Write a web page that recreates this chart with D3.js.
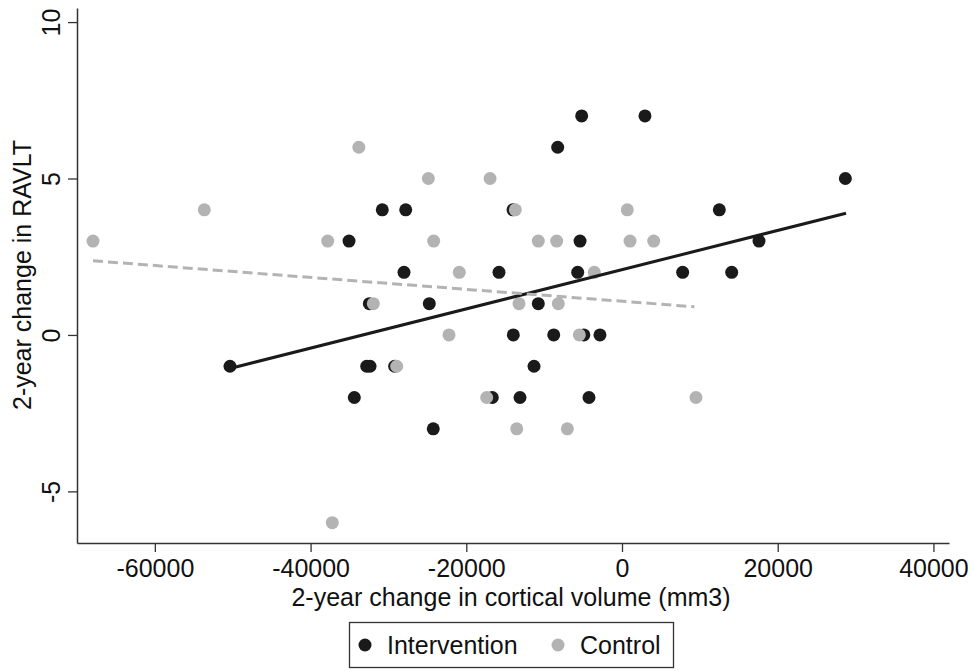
<!DOCTYPE html>
<html>
<head>
<meta charset="utf-8">
<script src="https://cdn.jsdelivr.net/npm/d3@7"></script>
<style>
  body { margin: 0; background: #fff; }
  text { font-family: "Liberation Sans", Arial, sans-serif; fill: #111; }
</style>
</head>
<body>
<svg width="974" height="671"></svg>
<script>
// values
const interventionX = [-5180, 2950, -8260, 28690, -30790, -27780, -14000, 12500,
  -35060, -5390, 17600, -28000, -15800, -5690, 7790, 14090,
  -32450, -24750, -10750, -13960, -8770, -4900, -2830,
  -50350, -32790, -32360, -29200, -11300, -34380, -16660, -13100, -4240, -24240];
const interventionY = [7, 7, 6, 5, 4, 4, 4, 4,
  3, 3, 3, 2, 2, 2, 2, 2,
  1, 1, 1, 0, 0, 0, 0,
  -1, -1, -1, -1, -1, -2, -2, -2, -2, -3];

const controlX = [-33800, -24870, -16950, -53650, -13700, 680,
  -67945, -37800, -24190, -10750, -8390, 1030, 4070,
  -20900, -3560, -31940, -13230, -8180, -22220, -5480,
  -28940, -17380, 9500, -13520, -7020, -37210];
const controlY = [6, 5, 5, 4, 4, 4,
  3, 3, 3, 3, 3, 3, 3,
  2, 2, 1, 1, 1, 0, 0,
  -1, -2, -2, -3, -3, -6];

// fitted lines (end points)
const interventionFitX = [-50350, 28770];
const interventionFitY = [-1.07, 3.89];
const controlFitX = [-67945, 9300];
const controlFitY = [2.37, 0.90];

const xTicks = [-60000, -40000, -20000, 0, 20000, 40000];
const yTicks = [-5, 0, 5, 10];
const legendLabels = ["Intervention", "Control"];

const BLACK = "#1a1a1a", GREY = "#b3b3b3";
const FS = 25;

const svg = d3.select("svg");
const x = d3.scaleLinear().domain([-70000, 42000]).range([77, 949]);
const y = d3.scaleLinear().domain([-6.65, 10.45]).range([543, 8]);

// axes
const xAxis = svg.append("g")
    .attr("transform", "translate(0,543)")
    .call(d3.axisBottom(x).tickValues(xTicks).tickSize(9).tickFormat(d => String(d)).tickSizeOuter(0));
xAxis.select(".domain").attr("stroke", "#333").attr("stroke-width", 1.5);
xAxis.selectAll(".tick line").attr("stroke", "#333").attr("stroke-width", 1.3);
xAxis.selectAll(".tick text").attr("font-size", FS).attr("font-family", "Liberation Sans").attr("fill", "#111")
    .attr("y", 34).attr("dy", null);

const yAxis = svg.append("g")
    .attr("transform", "translate(77,0)")
    .call(d3.axisLeft(y).tickValues(yTicks).tickSize(9).tickFormat(d => String(d)).tickSizeOuter(0));
yAxis.select(".domain").attr("stroke", "#333").attr("stroke-width", 1.5);
yAxis.selectAll(".tick line").attr("stroke", "#333").attr("stroke-width", 1.3);
yAxis.selectAll(".tick text")
    .attr("font-size", FS).attr("font-family", "Liberation Sans").attr("fill", "#111")
    .attr("x", null).attr("dy", null)
    .attr("text-anchor", "middle")
    .attr("transform", "translate(-17,0) rotate(-90)");

// titles
svg.append("text").attr("x", 511).attr("y", 606).attr("text-anchor", "middle")
    .attr("font-size", FS).text("2-year change in cortical volume (mm3)");
svg.append("text").attr("transform", "translate(30.5,275) rotate(-90)")
    .attr("text-anchor", "middle").attr("font-size", FS).text("2-year change in RAVLT");

// points: intervention first, control drawn on top
svg.append("g").selectAll("circle")
    .data(d3.zip(interventionX, interventionY))
    .join("circle")
    .attr("cx", d => x(d[0])).attr("cy", d => y(d[1])).attr("r", 6.5).attr("fill", BLACK);
svg.append("g").selectAll("circle")
    .data(d3.zip(controlX, controlY))
    .join("circle")
    .attr("cx", d => x(d[0])).attr("cy", d => y(d[1])).attr("r", 6.5).attr("fill", GREY);

// fit lines
const line = d3.line().x(d => x(d[0])).y(d => y(d[1]));
svg.append("path").datum(d3.zip(interventionFitX, interventionFitY))
    .attr("d", line).attr("stroke", BLACK).attr("stroke-width", 3).attr("fill", "none");
svg.append("path").datum(d3.zip(controlFitX, controlFitY))
    .attr("d", line).attr("stroke", GREY).attr("stroke-width", 3).attr("fill", "none")
    .attr("stroke-dasharray", "10,5");

// legend
const lg = svg.append("g");
lg.append("rect").attr("x", 349.5).attr("y", 622.5).attr("width", 324).attr("height", 45)
    .attr("fill", "#fff").attr("stroke", "#333").attr("stroke-width", 1.3);
const legendX = [365, 558];
const legendColors = [BLACK, GREY];
legendLabels.forEach((lab, i) => {
  lg.append("circle").attr("cx", legendX[i]).attr("cy", 645).attr("r", 6.5).attr("fill", legendColors[i]);
  lg.append("text").attr("x", legendX[i] + 22).attr("y", 654).attr("font-size", FS).text(lab);
});
</script>
</body>
</html>
